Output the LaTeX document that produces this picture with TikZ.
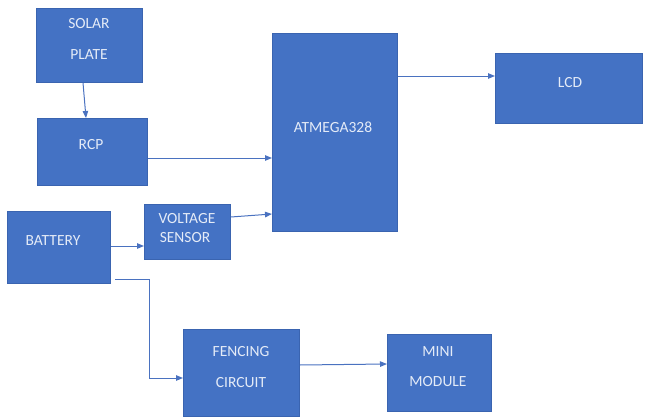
\documentclass[tikz,border=0pt]{standalone}
\usepackage{fontspec}
\setmainfont{Carlito}
\usetikzlibrary{arrows.meta,calc}
\definecolor{boxblue}{HTML}{4472C4}
\definecolor{boxedge}{HTML}{3A64B0}
\definecolor{linkblue}{HTML}{4A72C0}
\definecolor{txtcol}{HTML}{E4EBF7}
\begin{document}
\begin{tikzpicture}[x=1pt,y=-1pt,
  blk/.style={draw=boxedge,line width=0.8pt,fill=boxblue,anchor=north west,inner sep=0pt},
  txt/.style={text=txtcol,font=\fontsize{15.5}{16}\selectfont,inner sep=0pt},
  link/.style={draw=linkblue,line width=1pt,-{Triangle[length=7pt,width=5.5pt]}},
  plain/.style={draw=linkblue,line width=1pt}]
\useasboundingbox (0,0) rectangle (646,418);
% boxes
\node[blk,minimum width=106pt,minimum height=74pt] (solar) at (36,8) {};
\node[blk,minimum width=110pt,minimum height=67pt] (rcp) at (37,118) {};
\node[blk,minimum width=125pt,minimum height=198pt] (atm) at (272,33) {};
\node[blk,minimum width=147pt,minimum height=70pt] (lcd) at (495,53) {};
\node[blk,minimum width=103pt,minimum height=72pt] (bat) at (7,211) {};
\node[blk,minimum width=86pt,minimum height=55pt] (vs) at (144,204) {};
\node[blk,minimum width=116pt,minimum height=87pt] (fen) at (183,329) {};
\node[blk,minimum width=104pt,minimum height=77pt] (mini) at (387,334) {};
% texts
\node[txt] (t1) at (89,24) {SOLAR};
\node[txt] (t2) at (89,55) {PLATE};
\node[txt] (t3) at (91,145) {RCP};
\node[txt] (t4) at (333,127) {ATMEGA328};
\node[txt] (t5) at (570,83) {LCD};
\node[txt] (t6) at (53,241) {BATTERY};
\node[txt] (t7) at (187,219) {VOLTAGE};
\node[txt] (t8) at (185,238) {SENSOR};
\node[txt] (t9) at (241,352) {FENCING};
\node[txt] (t10) at (241,383) {CIRCUIT};
\node[txt] (t11) at (438,352) {MINI};
\node[txt] (t12) at (438,382) {MODULE};
% connectors
\draw[link] ($(solar.south west)+(47,0)$) -- ($(rcp.north west)+(49,0)$);
\draw[link] (rcp.east |- 0,158) -- (atm.west |- 0,158);
\draw[link] (atm.east |- 0,76) -- (lcd.west |- 0,76);
\draw[link] (bat.east |- 0,246) -- (vs.west |- 0,246);
\draw[link] (vs.east |- 0,217) -- (atm.west |- 0,214);
\coordinate (bstart) at (115,279);
\coordinate (bcorner) at (149,279);
\draw[link] (bstart) -- (bcorner) |- (fen.west |- 0,378);
\draw[link] (fen.east |- 0,365) -- (mini.west |- 0,364);
\end{tikzpicture}
\end{document}
